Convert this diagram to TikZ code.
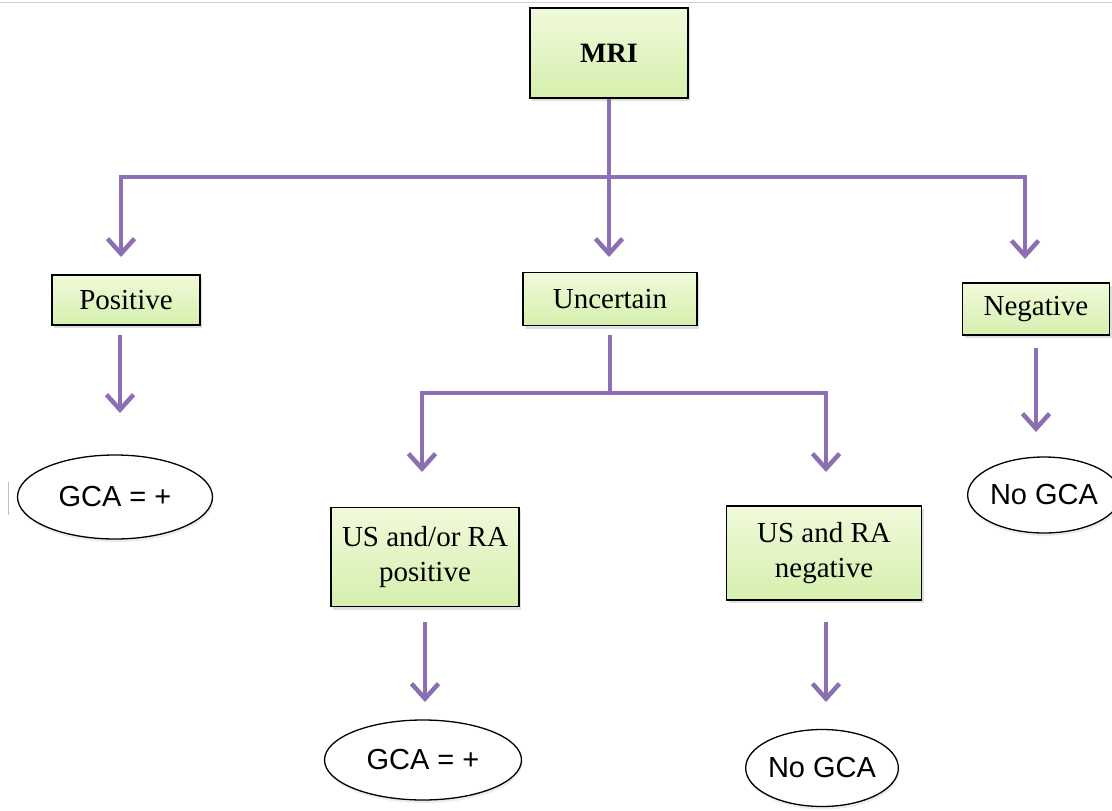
\documentclass[tikz,border=0pt]{standalone}
\usepackage{fontspec}
\setmainfont{Liberation Serif}
\setsansfont{Liberation Sans}
\usetikzlibrary{arrows.meta,shadows,shapes.geometric}
\definecolor{arrowpurple}{HTML}{8C6FB3}
\definecolor{boxtop}{HTML}{F0FADA}
\definecolor{boxbot}{HTML}{D6EFAE}
\begin{document}
\begin{tikzpicture}[x=1pt,y=-1pt,
  greenbox/.style={draw=black, line width=1.8pt, top color=boxtop, bottom color=boxbot,
    drop shadow={opacity=0.25, shadow xshift=2pt, shadow yshift=-3pt},
    align=center, font=\fontsize{29}{35}\selectfont, inner sep=0pt},
  oval/.style={ellipse, draw=black, line width=1.3pt, fill=white,
    drop shadow={opacity=0.15, shadow xshift=1pt, shadow yshift=-3pt},
    font=\sffamily\fontsize{29}{32}\selectfont, inner sep=0pt},
  conn/.style={draw=arrowpurple, line width=4.5pt},
  arr/.style={conn, -{Straight Barb[length=15pt,width=27pt,line width=4.5pt]}}
]
\useasboundingbox (0,0) rectangle (1112,811);
% border artifacts
\draw[gray!35, line width=1pt] (0,2) -- (1112,2);
\draw[gray!50, line width=1pt] (8,482) -- (8,515);

% boxes
\node[greenbox, minimum width=158pt, minimum height=90pt, font=\bfseries\fontsize{28}{32}\selectfont] (mri) at (609,53) {MRI};
\node[greenbox, minimum width=148pt, minimum height=50pt] (pos) at (126,300) {Positive};
\node[greenbox, minimum width=174pt, minimum height=53pt] (unc) at (610,299) {Uncertain};
\node[greenbox, minimum width=147pt, minimum height=52pt] (neg) at (1036,309) {Negative};
\node[greenbox, minimum width=188pt, minimum height=99pt] (usp) at (425,557) {US and/or RA\\positive};
\node[greenbox, minimum width=195pt, minimum height=94pt] (usn) at (824,553) {US and RA\\negative};

% ovals
\node[oval, minimum width=195pt, minimum height=84pt] (g1) at (115,497) {GCA = +};
\node[oval, minimum width=132pt, minimum height=76pt] (n1) at (1044,495) {No GCA};
\node[oval, minimum width=197pt, minimum height=80pt] (g2) at (423,760) {GCA = +};
\node[oval, minimum width=135pt, minimum height=77pt] (n2) at (822,768) {No GCA};

% connector coordinates
\coordinate (h1) at (609,177);
\coordinate (hl) at (121,177);
\coordinate (hr) at (1025,177);
\coordinate (hlt) at (121,257);
\coordinate (hmt) at (609,257);
\coordinate (hrt) at (1025,259);
\coordinate (ps) at (120,335);
\coordinate (pt) at (120,413);
\coordinate (us) at (610,335);
\coordinate (u1) at (610,393);
\coordinate (ul) at (422,393);
\coordinate (ur) at (826,393);
\coordinate (ult) at (422,472);
\coordinate (urt) at (826,472);
\coordinate (ns) at (1036,348);
\coordinate (nt) at (1036,432);
\coordinate (a1s) at (425,622);
\coordinate (a1t) at (425,702);
\coordinate (a2s) at (826,622);
\coordinate (a2t) at (826,702);

\draw[conn] (mri.south) -- (h1);
\draw[conn, line cap=rect] (hl) -- (hr);
\draw[arr] (hl) -- (hlt);
\draw[arr] (h1) -- (hmt);
\draw[arr] (hr) -- (hrt);
\draw[arr] (ps) -- (pt);
\draw[arr] (ns) -- (nt);
\draw[conn] (us) -- (u1);
\draw[conn, line cap=rect] (ul) -- (ur);
\draw[arr] (ul) -- (ult);
\draw[arr] (ur) -- (urt);
\draw[arr] (a1s) -- (a1t);
\draw[arr] (a2s) -- (a2t);
\end{tikzpicture}
\end{document}
